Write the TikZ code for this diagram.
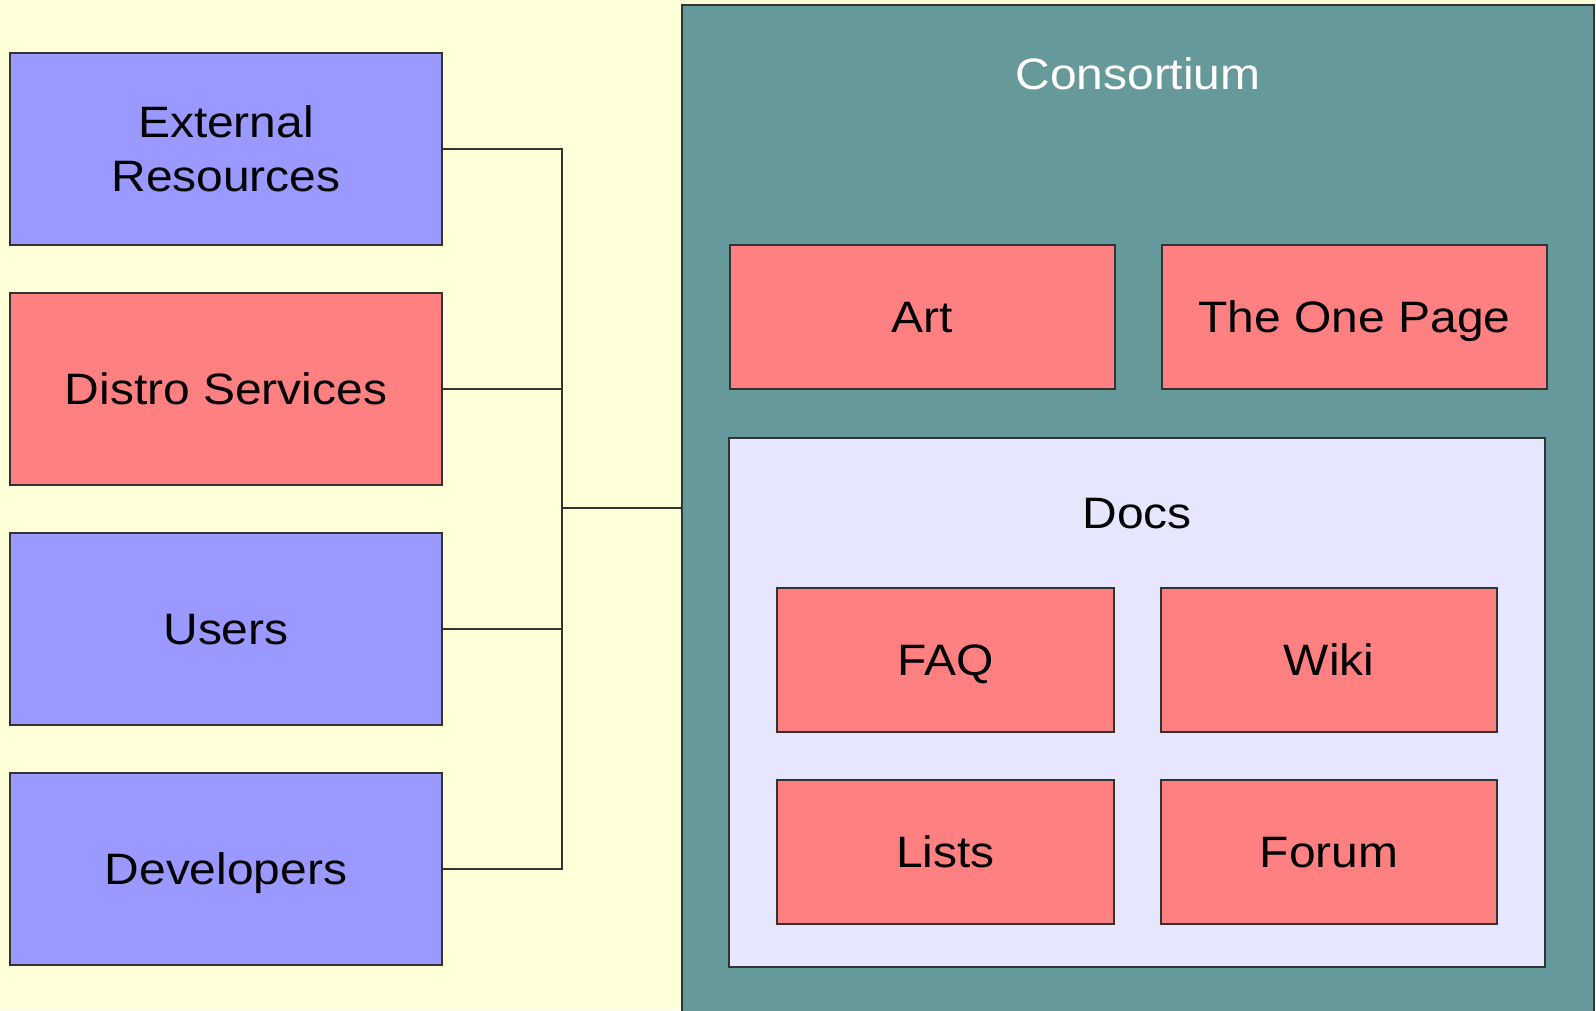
\documentclass[tikz,border=0pt]{standalone}
\usepackage{fontspec}
\setmainfont{Liberation Sans}[FakeStretch=1.09]
\usepackage{tikz}

\definecolor{paper}{HTML}{FFFFD8}
\definecolor{bluebox}{HTML}{9999FF}
\definecolor{redbox}{HTML}{FF8080}
\definecolor{teal}{HTML}{669999}
\definecolor{docsbg}{HTML}{E6E6FF}
\definecolor{edge}{HTML}{333333}

\tikzset{
	box/.style={draw=edge, line width=1.2pt, inner sep=0pt, align=center,
		font=\fontsize{44}{54}\selectfont},
	oneline/.style={text height=31.5pt, text depth=0pt},
	userbox/.style={box, fill=bluebox, minimum width=432pt, minimum height=192pt},
	partbox/.style={box, oneline, fill=redbox, minimum height=144pt},
	link/.style={draw=edge, line width=1.2pt}
}

\begin{document}
\begin{tikzpicture}[x=1pt, y=-1pt]
		\clip (0,0) rectangle (1596,1010);
		\useasboundingbox (0,0) rectangle (1596,1010);
		\fill[paper] (0,0) rectangle (1596,1010);
		
		\node[userbox] (ext) at (226,149) {External\\Resources};
		\node[userbox, oneline, fill=redbox] (distro) at (226,389) {Distro Services};
		\node[userbox, oneline] (users) at (226,629) {Users};
		\node[userbox, oneline] (devs) at (226,869) {Developers};
		
		\node[box, fill=teal, minimum width=912pt, minimum height=1030pt] (cons) at (1138,520) { };
		\node[box, oneline, draw=none, text=white] (constitle) at (1138,74) {Consortium};
		\node[partbox, minimum width=385pt] (art) at (922.5,317) {Art};
		\node[partbox, minimum width=385pt] (onepage) at (1354.5,317) {The One Page};
		
		\node[box, fill=docsbg, minimum width=816pt, minimum height=529pt] (docs) at (1137,702.5) { };
		\node[box, oneline, draw=none] (docstitle) at (1137,513) {Docs};
		\node[partbox, minimum width=337pt] (faq) at (945.5,660) {FAQ};
		\node[partbox, minimum width=336pt] (wiki) at (1329,660) {Wiki};
		\node[partbox, minimum width=337pt] (lists) at (945.5,852) {Lists};
		\node[partbox, minimum width=336pt] (forum) at (1329,852) {Forum};
		
		\coordinate (hub) at (562,508);
		\draw[link] (ext.east) -| (hub);
		\draw[link] (devs.east) -| (hub);
		\draw[link] (distro.east) -- (distro.east -| hub);
		\draw[link] (users.east) -- (users.east -| hub);
		\draw[link] (hub) -- (hub -| cons.west);
	\end{tikzpicture}
\end{document}
